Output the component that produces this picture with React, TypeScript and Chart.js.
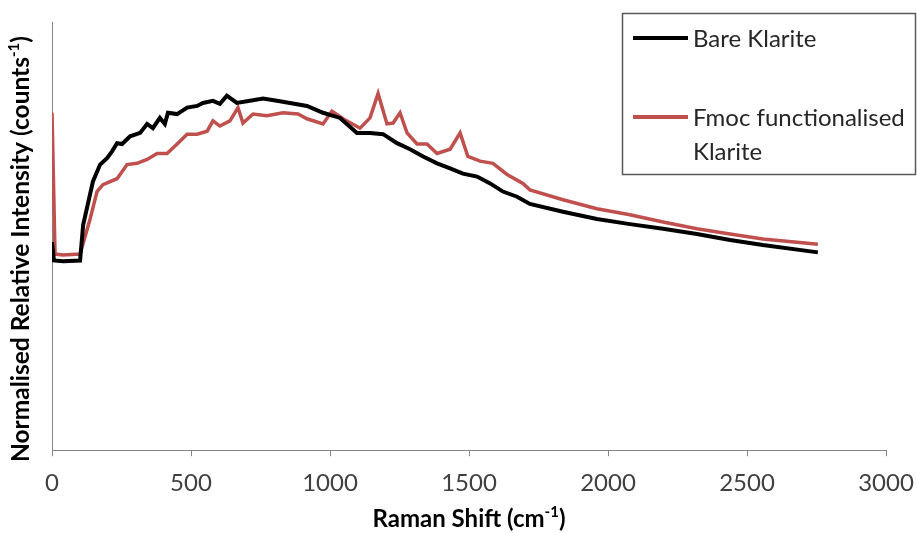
import React, { useEffect, useRef } from "react";
import { Chart, registerables } from "chart.js";
Chart.register(...registerables);

const bareX = [0, 7, 40, 101, 112, 147, 173, 198, 216, 234, 252, 281, 317, 342, 363, 388, 406, 417, 450, 486, 522, 543, 579, 604, 629, 665, 712, 759, 809, 856, 917, 975, 1036, 1097, 1144, 1191, 1241, 1288, 1335, 1385, 1432, 1478, 1529, 1576, 1622, 1673, 1719, 1838, 1960, 2079, 2198, 2320, 2439, 2557, 2755];
const bareY = [48.6, 44.3, 44.1, 44.3, 52.6, 62.7, 66.7, 68.2, 69.8, 71.7, 71.5, 73.3, 74.1, 76.2, 75.2, 77.6, 76.2, 78.8, 78.5, 80.0, 80.4, 81.1, 81.6, 80.9, 82.8, 81.1, 81.6, 82.1, 81.6, 81.1, 80.4, 78.8, 77.6, 74.1, 74.1, 73.8, 71.7, 70.3, 68.6, 67.0, 65.8, 64.6, 63.9, 62.3, 60.4, 59.2, 57.5, 55.7, 54.0, 52.8, 51.7, 50.5, 49.1, 47.9, 46.2];

const fmocX = [0, 11, 40, 101, 137, 162, 183, 234, 270, 306, 342, 378, 414, 450, 486, 522, 558, 579, 604, 640, 669, 687, 723, 773, 831, 885, 917, 975, 1007, 1047, 1108, 1144, 1173, 1205, 1227, 1252, 1277, 1313, 1349, 1385, 1432, 1468, 1496, 1540, 1586, 1637, 1694, 1719, 1838, 1960, 2079, 2198, 2320, 2439, 2557, 2755];
const fmocY = [78.8, 45.8, 45.6, 45.8, 54.0, 60.4, 62.0, 63.4, 66.7, 67.0, 67.9, 69.3, 69.3, 71.5, 73.8, 73.8, 74.5, 76.9, 75.7, 76.9, 80.0, 76.4, 78.5, 78.1, 78.8, 78.5, 77.4, 76.2, 79.2, 77.4, 75.2, 77.6, 83.3, 76.2, 76.4, 78.8, 74.1, 71.5, 71.5, 69.3, 70.3, 74.1, 68.6, 67.5, 67.0, 64.4, 62.3, 60.8, 58.5, 56.4, 55.0, 53.3, 51.7, 50.5, 49.3, 48.1];

const seriesLabels = ["Bare Klarite", "Fmoc functionalised Klarite"];
const seriesColors = ["#000000", "#C0504D"];
const xTitle = ["Raman Shift (cm", "-1", ")"];
const yTitle = ["Normalised Relative Intensity (counts", "-1", ")"];
const xMin = 0;
const xMax = 3000;
const xStep = 500;

const FONT = "Lato, 'Open Sans', sans-serif";

function drawSupText(ctx: CanvasRenderingContext2D, parts: string[], cx: number, baseline: number, size: number) {
  const main = `bold ${size}px ${FONT}`;
  const sup = `bold ${Math.round(size * 0.62)}px ${FONT}`;
  ctx.font = main;
  const w0 = ctx.measureText(parts[0]).width;
  const w2 = ctx.measureText(parts[2]).width;
  ctx.font = sup;
  const w1 = ctx.measureText(parts[1]).width;
  const total = w0 + w1 + w2;
  let x = cx - total / 2;
  ctx.textAlign = "left";
  ctx.textBaseline = "alphabetic";
  ctx.font = main;
  ctx.fillText(parts[0], x, baseline);
  x += w0;
  ctx.font = sup;
  ctx.fillText(parts[1], x, baseline - size * 0.4);
  x += w1;
  ctx.font = main;
  ctx.fillText(parts[2], x, baseline);
}

const titlesPlugin = {
  id: "titles",
  afterDraw(chart: any) {
    const ctx = chart.ctx as CanvasRenderingContext2D;
    const area = chart.chartArea;
    ctx.save();
    ctx.fillStyle = "#000";
    drawSupText(ctx, xTitle, (area.left + area.right) / 2, 527, 24);
    ctx.translate(28.5, 249);
    ctx.rotate(-Math.PI / 2);
    drawSupText(ctx, yTitle, 0, 0, 24.5);
    ctx.restore();
  },
};

const legendPlugin = {
  id: "boxLegend",
  afterDraw(chart: any) {
    const ctx = chart.ctx as CanvasRenderingContext2D;
    const bx = 622, by = 13, bw = 293, bh = 161;
    ctx.save();
    ctx.fillStyle = "#fff";
    ctx.fillRect(bx, by, bw, bh);
    ctx.strokeStyle = "#595959";
    ctx.lineWidth = 1.5;
    ctx.strokeRect(bx + 0.5, by + 0.5, bw, bh);
    const rowY = [38, 117];
    const lineH = 34;
    const textX = 693;
    const maxW = bx + bw - textX - 4;
    ctx.font = `24px ${FONT}`;
    ctx.textBaseline = "alphabetic";
    ctx.textAlign = "left";
    chart.data.datasets.forEach((ds: any, i: number) => {
      const y = rowY[i];
      ctx.strokeStyle = ds.borderColor;
      ctx.lineWidth = 4;
      ctx.beginPath();
      ctx.moveTo(633, y);
      ctx.lineTo(688, y);
      ctx.stroke();
      const words = String(ds.label).split(" ");
      const lines: string[] = [];
      let cur = "";
      words.forEach((w) => {
        const t = cur ? cur + " " + w : w;
        if (ctx.measureText(t).width > maxW && cur) {
          lines.push(cur);
          cur = w;
        } else cur = t;
      });
      if (cur) lines.push(cur);
      ctx.fillStyle = "#262626";
      lines.forEach((l, k) => ctx.fillText(l, textX, y + 8.5 + k * lineH));
    });
    ctx.restore();
  },
};

export default function App() {
  const ref = useRef<HTMLCanvasElement | null>(null);
  useEffect(() => {
    if (!ref.current) return;
    const chart = new Chart(ref.current, {
      type: "scatter",
      data: {
        datasets: [
          {
            label: seriesLabels[0],
            data: bareX.map((x, i) => ({ x, y: bareY[i] })),
            borderColor: seriesColors[0],
            backgroundColor: seriesColors[0],
            borderWidth: 4,
            showLine: true,
            pointRadius: 0,
            tension: 0,
          },
          {
            label: seriesLabels[1],
            data: fmocX.map((x, i) => ({ x, y: fmocY[i] })),
            borderColor: seriesColors[1],
            backgroundColor: seriesColors[1],
            borderWidth: 3.5,
            showLine: true,
            pointRadius: 0,
            tension: 0,
          },
        ],
      },
      options: {
        animation: false,
        responsive: true,
        maintainAspectRatio: false,
        layout: { padding: { left: 52, top: 22, right: 31, bottom: 22 } },
        plugins: { legend: { display: false }, tooltip: { enabled: false } },
        scales: {
          x: {
            type: "linear",
            min: xMin,
            max: xMax,
            afterFit: (scale: any) => {
              scale.paddingLeft = 0;
              scale.paddingRight = 0;
            },
            ticks: {
              stepSize: xStep,
              font: { family: FONT, size: 24 },
              color: "#404040",
              padding: 13,
              maxRotation: 0,
              callback: (v: any) => String(v),
            },
            grid: { drawOnChartArea: false, tickLength: 6, color: "#868686", lineWidth: 1 },
            border: { color: "#868686", width: 1 },
          },
          y: {
            min: 0,
            max: 100,
            ticks: { display: false },
            grid: { display: false, drawTicks: false },
            border: { color: "#868686", width: 1 },
          },
        },
      },
      plugins: [titlesPlugin, legendPlugin],
    });
    return () => chart.destroy();
  }, []);
  return (
    <div style={{ position: "absolute", left: 0, top: 0, width: 917, height: 533, background: "#fff" }}>
      <canvas ref={ref} />
    </div>
  );
}
